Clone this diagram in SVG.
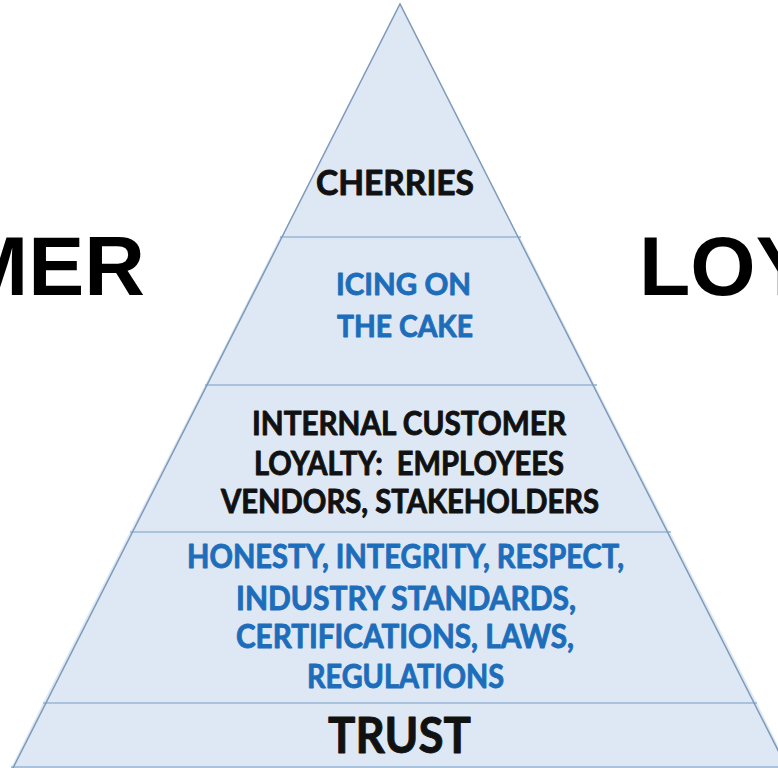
<svg xmlns="http://www.w3.org/2000/svg" width="778" height="768" viewBox="0 0 778 768">
<style>
.tier{fill:#dde8f4;stroke:none}
.div{stroke:#a9c2dd;stroke-width:2;fill:none}
.edge{fill:none;stroke:#7f9bbb;stroke-width:1.5;stroke-linejoin:miter}
.t{font-family:Lato,"Open Sans","Liberation Sans",sans-serif;font-weight:bold;stroke-width:0.9;stroke-linejoin:round}
.blk{fill:#111111;stroke:#111111}
.blu{fill:#1d6dbb;stroke:#1d6dbb}
.big{font-family:"Liberation Sans",Arial,sans-serif;font-weight:bold;font-size:84px;fill:#000}
</style>
<rect x="0" y="0" width="778" height="768" fill="#ffffff"/>
<g id="side-words">
<text class="big" x="145" y="295" text-anchor="end">MER</text>
<text class="big" x="639" y="295">LOY</text>
</g>
<g id="tier-cherries">
<polygon class="tier" points="400,4 520,241 280,241"/>
<text class="t blk" x="316" y="195" font-size="35" textLength="158" lengthAdjust="spacingAndGlyphs">CHERRIES</text>
</g>
<g id="tier-icing">
<polygon class="tier" points="280,237 520,237 595,385 205,385"/>
<text class="t blu" x="336" y="295" font-size="31" textLength="135" lengthAdjust="spacingAndGlyphs">ICING ON</text>
<text class="t blu" x="337" y="337" font-size="31" textLength="136" lengthAdjust="spacingAndGlyphs">THE CAKE</text>
</g>
<g id="tier-internal">
<polygon class="tier" points="205,385 595,385 670,532 130,532"/>
<text class="t blk" x="252" y="435" font-size="32" textLength="314" lengthAdjust="spacingAndGlyphs">INTERNAL CUSTOMER</text>
<text class="t blk" x="254" y="475" font-size="32" textLength="310" lengthAdjust="spacingAndGlyphs" xml:space="preserve">LOYALTY:  EMPLOYEES</text>
<text class="t blk" x="221" y="513" font-size="32" textLength="378" lengthAdjust="spacingAndGlyphs">VENDORS, STAKEHOLDERS</text>
</g>
<g id="tier-honesty">
<polygon class="tier" points="130,532 670,532 757,703 43,703"/>
<text class="t blu" x="187" y="568" font-size="32" textLength="437" lengthAdjust="spacingAndGlyphs">HONESTY, INTEGRITY, RESPECT,</text>
<text class="t blu" x="236" y="610" font-size="32" textLength="340" lengthAdjust="spacingAndGlyphs">INDUSTRY STANDARDS,</text>
<text class="t blu" x="236" y="648" font-size="32" textLength="338" lengthAdjust="spacingAndGlyphs">CERTIFICATIONS, LAWS,</text>
<text class="t blu" x="307" y="688" font-size="32" textLength="197" lengthAdjust="spacingAndGlyphs">REGULATIONS</text>
</g>
<g id="tier-trust">
<polygon class="tier" points="43,703 757,703 790,770 10,770"/>
<text class="t blk" x="328" y="753" font-size="49" textLength="143" lengthAdjust="spacingAndGlyphs">TRUST</text>
</g>
<g id="connectors">
<line class="div" x1="280" y1="237" x2="521" y2="237"/>
<line class="div" x1="205" y1="385" x2="597" y2="385"/>
<line class="div" x1="130" y1="532" x2="671" y2="532"/>
<line class="div" x1="43" y1="703" x2="757" y2="703"/>
<line class="div" x1="11" y1="767" x2="778" y2="767"/>
<polyline class="edge" points="13,768 400,4 787,768"/>
</g>
</svg>
